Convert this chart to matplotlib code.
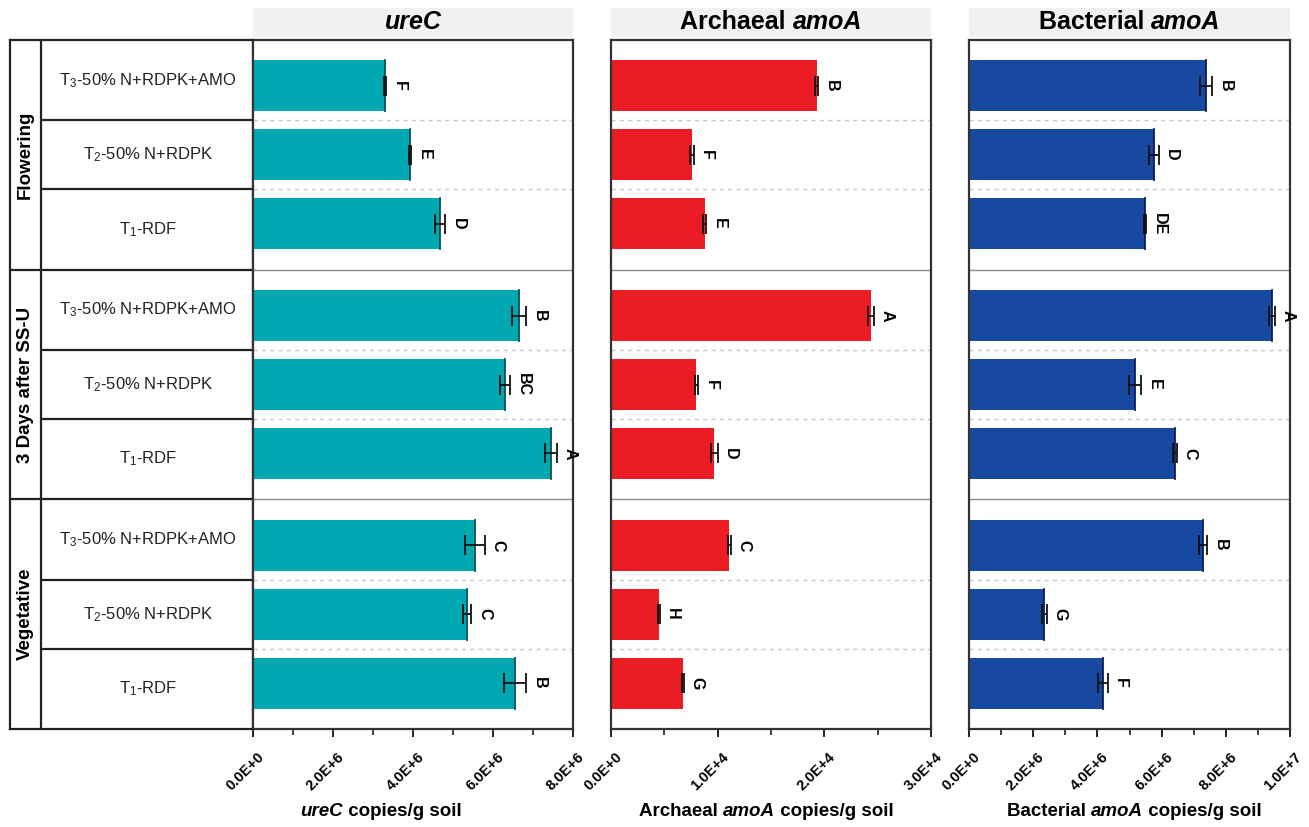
import matplotlib
matplotlib.use("Agg")
import matplotlib.pyplot as plt
from matplotlib import font_manager
from matplotlib.ticker import FixedLocator, MultipleLocator
import matplotlib.transforms as mtransforms

# ---------------- data ----------------
groups = ["Flowering", "3 Days after SS-U", "Vegetative"]
treatments = ["T$_3$-50% N+RDPK+AMO", "T$_2$-50% N+RDPK", "T$_1$-RDF"]

# values per group, rows ordered top->bottom: T3, T2, T1
urec_vals = [[3.30e6, 3.93e6, 4.68e6], [6.65e6, 6.30e6, 7.45e6], [5.55e6, 5.35e6, 6.55e6]]
urec_err = [[0.03e6, 0.02e6, 0.13e6], [0.18e6, 0.13e6, 0.15e6], [0.25e6, 0.11e6, 0.28e6]]
urec_let = [["F", "E", "D"], ["B", "BC", "A"], ["C", "C", "B"]]

aoa_vals = [[19.3e3, 7.6e3, 8.8e3], [24.4e3, 8.0e3, 9.7e3], [11.1e3, 4.5e3, 6.75e3]]
aoa_err = [[0.15e3, 0.15e3, 0.15e3], [0.30e3, 0.15e3, 0.30e3], [0.15e3, 0.05e3, 0.05e3]]
aoa_let = [["B", "F", "E"], ["A", "F", "D"], ["C", "H", "G"]]

aob_vals = [[7.38e6, 5.76e6, 5.48e6], [9.44e6, 5.17e6, 6.42e6], [7.29e6, 2.34e6, 4.17e6]]
aob_err = [[0.19e6, 0.15e6, 0.03e6], [0.08e6, 0.20e6, 0.05e6], [0.12e6, 0.08e6, 0.15e6]]
aob_let = [["B", "D", "DE"], ["A", "E", "C"], ["B", "G", "F"]]

urec_ticks = [0, 2e6, 4e6, 6e6, 8e6]
urec_ticklabels = ["0.0E+0", "2.0E+6", "4.0E+6", "6.0E+6", "8.0E+6"]
aoa_ticks = [0, 1e4, 2e4, 3e4]
aoa_ticklabels = ["0.0E+0", "1.0E+4", "2.0E+4", "3.0E+4"]
aob_ticks = [0, 2e6, 4e6, 6e6, 8e6, 1e7]
aob_ticklabels = ["0.0E+0", "2.0E+6", "4.0E+6", "6.0E+6", "8.0E+6", "1.0E+7"]

# ---------------- fonts ----------------
def has_font(name):
    try:
        font_manager.findfont(name, fallback_to_default=False)
        return True
    except Exception:
        return False

MAIN = "Liberation Sans" if has_font("Liberation Sans") else "DejaVu Sans"
plt.rcParams["font.family"] = [MAIN, "DejaVu Sans"]
plt.rcParams["mathtext.fontset"] = "custom"
plt.rcParams["mathtext.rm"] = MAIN
plt.rcParams["mathtext.it"] = MAIN + ":italic"
plt.rcParams["mathtext.bf"] = MAIN + ":bold"

W, H = 1309, 827
fig = plt.figure(figsize=(W / 100, H / 100), dpi=100)
fig.patch.set_facecolor("white")

def ax_px(x0, x1, y0, y1):
    return fig.add_axes([x0 / W, 1 - y1 / H, (x1 - x0) / W, (y1 - y0) / H])

TOP, BOT = 40, 729
GU = 10.0 / 3.0           # group span in data units
PAD = 1.0 / 6.0

def ypos(g, r):
    return g * GU + PAD + 0.5 + r

BAR_H = 0.74

# ---------------- label table ----------------
tab = ax_px(10, 253, TOP, BOT)
tab.set_xlim(0, 1)
tab.set_ylim(10, 0)
tab.set_xticks([])
tab.set_yticks([])
for s in tab.spines.values():
    s.set_linewidth(1.6)
    s.set_color("#222222")
xdiv = (41 - 10) / 243.0
tab.axvline(xdiv, color="#222222", lw=1.6)
for g in range(3):
    if g > 0:
        tab.plot([0, 1], [g * GU, g * GU], color="#222222", lw=1.6, solid_capstyle="butt")
    bounds = [g * GU, ypos(g, 0) + 0.5, ypos(g, 1) + 0.5, (g + 1) * GU]
    for b in bounds[1:3]:
        tab.plot([xdiv, 1], [b, b], color="#222222", lw=1.6, solid_capstyle="butt")
    for r in range(3):
        yc = (bounds[r] + bounds[r + 1]) / 2
        tab.text((xdiv + 1) / 2 + 0.004, yc, treatments[r], ha="center", va="center",
                 fontsize=12, color="#222222")
    tab.text(xdiv / 2, (g + 0.5) * GU, groups[g], ha="center", va="center",
             rotation=90, fontsize=13.5, fontweight="bold", color="black")

# ---------------- panels ----------------
panels = [
    dict(x0=253, x1=573, vals=urec_vals, err=urec_err, let=urec_let, color="#00a9b1",
         edge="#0d4f52", xmax=8e6, ticks=urec_ticks, tl=urec_ticklabels, minor=1e6,
         title=[("ureC", "italic")], xlabel=[("ureC", "italic"), (" copies/g soil", "normal")],
         xlab_c=381),
    dict(x0=611, x1=931, vals=aoa_vals, err=aoa_err, let=aoa_let, color="#ec1c24",
         edge=None, xmax=3e4, ticks=aoa_ticks, tl=aoa_ticklabels, minor=5e3,
         title=[("Archaeal ", "normal"), ("amoA", "italic")],
         xlabel=[("Archaeal ", "normal"), ("amoA", "italic"), (" copies/g soil", "normal")],
         xlab_c=766),
    dict(x0=969, x1=1290, vals=aob_vals, err=aob_err, let=aob_let, color="#1749a0",
         edge="#0a1f55", xmax=1e7, ticks=aob_ticks, tl=aob_ticklabels, minor=1e6,
         title=[("Bacterial ", "normal"), ("amoA", "italic")],
         xlabel=[("Bacterial ", "normal"), ("amoA", "italic"), (" copies/g soil", "normal")],
         xlab_c=1134),
]

renderer = fig.canvas.get_renderer()

def rich_text(xc_px, yc_px, parts, size):
    ts = []
    for s, st in parts:
        t = fig.text(0, 0, s, fontsize=size, fontweight="bold", fontstyle=st,
                     ha="left", va="center", color="black")
        ts.append(t)
    widths = [t.get_window_extent(renderer).width for t in ts]
    x = xc_px - sum(widths) / 2
    for t, w in zip(ts, widths):
        t.set_position((x / W, 1 - yc_px / H))
        x += w

shift = mtransforms.ScaledTranslation(4 / 100, -7 / 100, fig.dpi_scale_trans)

for p in panels:
    ax = ax_px(p["x0"], p["x1"], TOP, BOT)
    ax.set_xlim(0, p["xmax"])
    ax.set_ylim(10, 0)
    # grid lines
    for g in range(3):
        for r in range(2):
            yb = ypos(g, r) + 0.5
            ax.axhline(yb, color="#c8c8c8", lw=1.0, ls=(0, (3, 3)), zorder=0)
        if g > 0:
            ax.axhline(g * GU, color="#8a8a8a", lw=1.0, zorder=0)
    for g in range(3):
        for r in range(3):
            y = ypos(g, r)
            v = p["vals"][g][r]
            e = p["err"][g][r]
            ax.barh(y, v, height=BAR_H, color=p["color"], edgecolor="none", zorder=2)
            if p["edge"]:
                ax.plot([v, v], [y - BAR_H / 2, y + BAR_H / 2], color=p["edge"], lw=1.3, zorder=3)
            ax.errorbar(v, y, xerr=e, fmt="none", ecolor="#111111", elinewidth=1.3,
                        capsize=7, capthick=1.3, zorder=4)
            ax.annotate(p["let"][g][r], (v + e, y), xytext=(4, 0), textcoords="offset points",
                        ha="left", va="center", rotation=-90, fontsize=11.5,
                        fontweight="bold", color="black", zorder=5)
    ax.set_yticks([])
    ax.xaxis.set_major_locator(FixedLocator(p["ticks"]))
    ax.xaxis.set_minor_locator(MultipleLocator(p["minor"]))
    ax.tick_params(axis="x", which="major", direction="out", length=6, width=1.4,
                   color="#222222", pad=4)
    ax.tick_params(axis="x", which="minor", direction="out", length=4, width=1.2,
                   color="#222222")
    ax.set_xticklabels(p["tl"], rotation=45, ha="right", rotation_mode="anchor",
                       fontsize=10.5, fontweight="bold")
    for lab in ax.get_xticklabels():
        lab.set_transform(lab.get_transform() + shift)
    for s in ax.spines.values():
        s.set_linewidth(1.6)
        s.set_color("#333333")
    # header strip
    hdr = ax_px(p["x0"], p["x1"], 8, 37)
    hdr.set_facecolor("#f0f2f2")
    hdr.set_xticks([])
    hdr.set_yticks([])
    for s in hdr.spines.values():
        s.set_visible(False)
    rich_text((p["x0"] + p["x1"]) / 2, 22, p["title"], 18)
    rich_text(p["xlab_c"], 812, p["xlabel"], 13.5)

fig.savefig("out.png", dpi=100, facecolor="white")
